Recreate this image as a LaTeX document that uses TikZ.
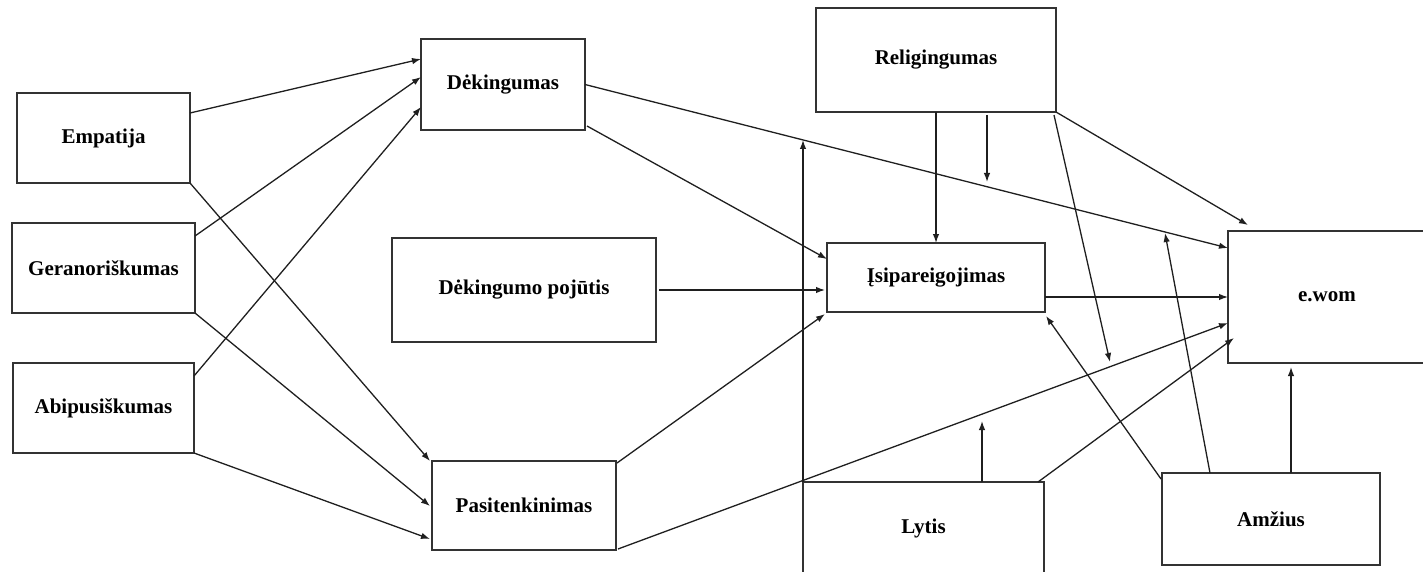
\documentclass[tikz,border=0pt]{standalone}
\usepackage{fontspec}
\setmainfont{Liberation Serif}
\usetikzlibrary{arrows.meta,calc}
\begin{document}
\begin{tikzpicture}[x=1pt,y=-1pt,
  box/.style={draw=black!80, line width=1.7pt, inner sep=0pt, outer sep=0pt,
    font=\fontsize{21}{25}\selectfont\bfseries, align=center},
  arr/.style={-{Latex[length=9pt,width=6.5pt]}, line width=1.3pt, draw=black!88}]
\useasboundingbox (0,0) rectangle (1423,572);
\clip (0,0) rectangle (1423,572);
% boxes
\node[box, minimum width=173pt, minimum height=90pt] (emp) at (103.5,138) {Empatija};
\node[box, minimum width=183pt, minimum height=90pt] (ger) at (103.5,268) {Geranoriškumas};
\node[box, minimum width=181pt, minimum height=90pt] (abi) at (103.5,408) {Abipusiškumas};
\node[box, minimum width=164pt, minimum height=91pt] (dek) at (503,84.5) {Dėkingumas};
\node[box, minimum width=264pt, minimum height=104pt] (dp) at (524,290) {Dėkingumo pojūtis};
\node[box, minimum width=184pt, minimum height=89pt] (pas) at (524,505.5) {Pasitenkinimas};
\node[box, minimum width=240pt, minimum height=104pt] (rel) at (936,60) {Religingumas};
\node[box, minimum width=218pt, minimum height=69pt] (isi) at (936,277.5) {Įsipareigojimas};
\node[box, minimum width=198pt, minimum height=132pt] (ewom) at (1327,297) {e.wom};
\node[box, minimum width=241pt, minimum height=92pt] (lyt) at (923.5,528) {Lytis};
\node[box, minimum width=218pt, minimum height=92pt] (amz) at (1271,519) {Amžius};
% moderation points on lines
\coordinate (m1) at (987,182);
\coordinate (m2) at (1110,362);
\coordinate (m3) at (1165,233);
\coordinate (m4) at (982,421);
\coordinate (m5) at (803,140);
% left to Dekingumas
\draw[arr] ($(emp.north east)+(0,20)$) -- ($(dek.north west)+(0,20)$);
\draw[arr] ($(ger.north east)+(0,13)$) -- ($(dek.north west)+(0,38)$);
\draw[arr] ($(abi.north east)+(0,13)$) -- ($(dek.north west)+(0,68)$);
% left to Pasitenkinimas
\draw[arr] (emp.south east) -- ($(pas.north west)+(-2,0)$);
\draw[arr] (ger.south east) -- ($(pas.north west)+(-2,45)$);
\draw[arr] (abi.south east) -- ($(pas.north west)+(-2,78)$);
% middle
\draw[arr] (dek.east) -- ($(ewom.north west)+(0,17)$);
\draw[arr] ($(dek.south east)+(2,-4)$) -- ($(isi.north west)+(0,16)$);
\draw[arr] ($(dp.east)+(3,0)$) -- ($(isi.west |- dp.east)+(-2,0)$);
\draw[arr] ($(pas.north east)+(1,2)$) -- ($(isi.south west)+(-2,2)$);
\draw[arr] ($(pas.south east)+(2,-1)$) -- ($(ewom.north west)+(0,92)$);
% Religingumas
\draw[arr] (rel.south) -- (isi.north);
\draw[arr] ($(rel.south west)+(171,3)$) -- (m1);
\draw[arr] (rel.south east) -- ($(ewom.north west)+(20,-6)$);
\draw[arr] ($(rel.south east)+(-2,3)$) -- (m2);
% Isipareigojimas to e.wom
\draw[arr] (isi.east |- ewom.west) -- (ewom.west);
% Amzius
\draw[arr] ($(amz.north west)+(-1,6)$) -- ($(isi.south east)+(1,4)$);
\draw[arr] ($(amz.north west)+(48,0)$) -- (m3);
\draw[arr] ($(amz.north west)+(129,0)$) -- ($(ewom.south west)+(63,4)$);
% Lytis
\draw[arr] (lyt.north west) -- (m5);
\draw[arr] (m4 |- lyt.north) -- (m4);
\draw[arr] ($(lyt.north east)+(-6,0)$) -- ($(ewom.north west)+(6,107)$);
\end{tikzpicture}
\end{document}
